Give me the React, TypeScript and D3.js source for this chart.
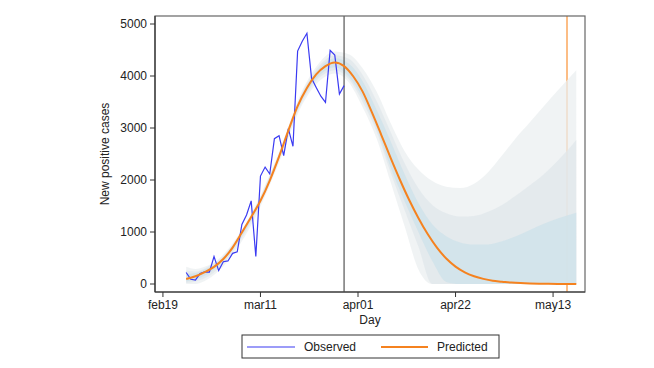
import * as d3 from 'd3';

const WIDTH = 654;
const HEIGHT = 368;
const BOX = { left: 155, right: 585, top: 16, bottom: 292 };
const FONT = '"Liberation Sans", Arial, Helvetica, sans-serif';

// days are counted from 19 Feb 2020
const START = Date.UTC(2020, 1, 19);
const DAY = 86400000;
const toDate = (d: number) => new Date(START + d * DAY);

// observed new positive cases, one value per day from 24 Feb (day 5) to 29 Mar (day 39)
const obsFirstDay = 5;
const observed = [
  221, 90, 74, 203, 233, 228, 528, 258, 428, 443, 590, 620, 1145, 1326, 1598, 529,
  2076, 2249, 2116, 2795, 2853, 2470, 2989, 2648, 4480, 4670, 4821, 3957, 3780,
  3612, 3491, 4492, 4401, 3651, 3815,
];

// fitted curve
const predDays = [
  5, 7, 9, 11, 13, 15, 17, 19, 21, 23, 25, 27, 29, 31, 33, 35, 37, 39, 41, 43, 45,
  47, 49, 51, 53, 55, 57, 59, 61, 63, 65, 67, 69, 71, 73, 75, 77, 79, 81, 83, 85, 87, 89,
];
const predicted = [
  95, 150, 230, 330, 480, 700, 990, 1290, 1600, 1990, 2450, 2950, 3420, 3770, 4030,
  4190, 4260, 4190, 3990, 3700, 3300, 2870, 2430, 2010, 1620, 1270, 960, 700, 490,
  335, 225, 150, 98, 62, 45, 28, 17, 10, 6, 4, 2, 1, 1,
];

// uncertainty bands (outer, middle, inner)
const bandDays = [5, 7, 9, 12, 15, 20, 25, 30, 34, 37, 40, 43, 46, 49, 52, 55, 58, 61, 64, 67, 70, 73, 76, 79, 82, 85, 89];
const outerHi = [330, 290, 330, 480, 780, 1520, 2540, 3720, 4290, 4470, 4420, 4150, 3700, 3100, 2560, 2200, 1980, 1870, 1845, 1930, 2150, 2470, 2810, 3110, 3420, 3720, 4110];
const outerLo = [0, 0, 60, 250, 560, 1300, 2330, 3450, 3930, 4050, 3880, 3400, 2800, 1965, 1120, 280, 0, 0, 0, 0, 0, 0, 0, 0, 0, 0, 0];
const midHi = [260, 240, 300, 450, 750, 1490, 2510, 3680, 4230, 4400, 4330, 4020, 3520, 2930, 2330, 1840, 1520, 1360, 1300, 1310, 1390, 1520, 1700, 1900, 2110, 2370, 2770];
const midLo = [20, 50, 110, 300, 620, 1360, 2380, 3510, 3990, 4110, 3940, 3500, 2930, 2150, 1430, 720, 0, 0, 0, 0, 0, 0, 0, 0, 0, 0, 0];
const innerHi = [190, 210, 280, 430, 730, 1470, 2490, 3650, 4180, 4340, 4240, 3900, 3350, 2750, 2120, 1560, 1150, 920, 800, 760, 760, 820, 920, 1040, 1160, 1260, 1370];
const innerLo = [50, 90, 160, 350, 660, 1400, 2410, 3550, 4040, 4170, 3990, 3580, 3000, 2250, 1600, 1000, 440, 40, 0, 0, 0, 0, 0, 0, 0, 0, 0];

const yTicks = [0, 1000, 2000, 3000, 4000, 5000];
const xTickDates = ['2020-02-19', '2020-03-11', '2020-04-01', '2020-04-22', '2020-05-13'];
const lastObsDate = '2020-03-29';
const horizonDate = '2020-05-16';

export default function App() {
  const x = d3
    .scaleUtc()
    .domain([new Date(Date.UTC(2020, 1, 17, 7)), new Date(Date.UTC(2020, 4, 19, 21))])
    .range([BOX.left, BOX.right]);
  const y = d3.scaleLinear().domain([0, 5000]).range([284, 24]);
  const fmt = d3.utcFormat('%b%d');

  const band = (lo: number[], hi: number[]) =>
    d3
      .area<number>()
      .x((_, i) => x(toDate(bandDays[i])))
      .y0((_, i) => y(lo[i]))
      .y1((_, i) => y(hi[i]))
      .curve(d3.curveMonotoneX)(bandDays) || '';

  const predLine = d3
    .line<number>()
    .x((d) => x(toDate(d)))
    .y((_, i) => y(predicted[i]))
    .curve(d3.curveMonotoneX)(predDays) || '';

  const obsLine = d3
    .line<number>()
    .x((_, i) => x(toDate(obsFirstDay + i)))
    .y((d) => y(d))(observed) || '';

  const xv = (s: string) => x(new Date(s + 'T00:00:00Z'));

  return (
    <svg
      width={WIDTH}
      height={HEIGHT}
      style={{ position: 'absolute', left: 0, top: 0, background: '#fff' }}
      fontFamily={FONT}
    >
      <rect x={0} y={0} width={WIDTH} height={HEIGHT} fill="#fff" />

      {/* forecast horizon */}
      <line x1={xv(horizonDate)} x2={xv(horizonDate)} y1={BOX.top} y2={BOX.bottom} stroke="#fcbd85" strokeWidth={2} />

      {/* bands */}
      <path d={band(outerLo, outerHi)} fill="#ebeff0" fillOpacity={0.75} />
      <path d={band(midLo, midHi)} fill="#e0e7eb" fillOpacity={0.75} />
      <path d={band(innerLo, innerHi)} fill="#cde1e9" fillOpacity={0.75} />

      {/* last observed day */}
      <line x1={xv(lastObsDate)} x2={xv(lastObsDate)} y1={BOX.top} y2={BOX.bottom} stroke="#555" strokeWidth={1.2} />

      <path d={obsLine} fill="none" stroke="#3a3af2" strokeWidth={1.2} />
      <path d={predLine} fill="none" stroke="#f5821f" strokeWidth={2} />

      {/* frame */}
      <rect
        x={BOX.left}
        y={BOX.top}
        width={BOX.right - BOX.left}
        height={BOX.bottom - BOX.top}
        fill="none"
        stroke="#666"
        strokeWidth={1.2}
      />
      <line x1={BOX.left} x2={BOX.left} y1={BOX.top} y2={BOX.bottom} stroke="#333" strokeWidth={1.2} />
      <line x1={BOX.left} x2={BOX.right} y1={BOX.bottom} y2={BOX.bottom} stroke="#333" strokeWidth={1.2} />

      {/* y axis */}
      {yTicks.map((t) => (
        <g key={t}>
          <line x1={BOX.left - 5} x2={BOX.left} y1={y(t)} y2={y(t)} stroke="#333" strokeWidth={1} />
          <text x={BOX.left - 8} y={y(t)} dy="0.35em" textAnchor="end" fontSize={12} fill="#222">
            {t}
          </text>
        </g>
      ))}
      <text
        transform={`translate(109,${(BOX.top + BOX.bottom) / 2}) rotate(-90)`}
        textAnchor="middle"
        fontSize={12}
        fill="#222"
      >
        New positive cases
      </text>

      {/* x axis */}
      {xTickDates.map((s) => (
        <g key={s}>
          <line x1={xv(s)} x2={xv(s)} y1={BOX.bottom} y2={BOX.bottom + 5} stroke="#333" strokeWidth={1} />
          <text x={xv(s)} y={309} textAnchor="middle" fontSize={12} fill="#222">
            {fmt(new Date(s + 'T00:00:00Z')).toLowerCase()}
          </text>
        </g>
      ))}
      <text x={(BOX.left + BOX.right) / 2} y={324} textAnchor="middle" fontSize={12} fill="#222">
        Day
      </text>

      {/* legend */}
      <rect x={242} y={335} width={257} height={23} fill="#fff" stroke="#333" strokeWidth={1} />
      <line x1={247} x2={295} y1={347} y2={347} stroke="#3a3af2" strokeWidth={1.2} />
      <text x={304} y={347} dy="0.35em" fontSize={12} fill="#222">
        Observed
      </text>
      <line x1={381} x2={428} y1={347} y2={347} stroke="#f5821f" strokeWidth={2} />
      <text x={437} y={347} dy="0.35em" fontSize={12} fill="#222">
        Predicted
      </text>
    </svg>
  );
}
